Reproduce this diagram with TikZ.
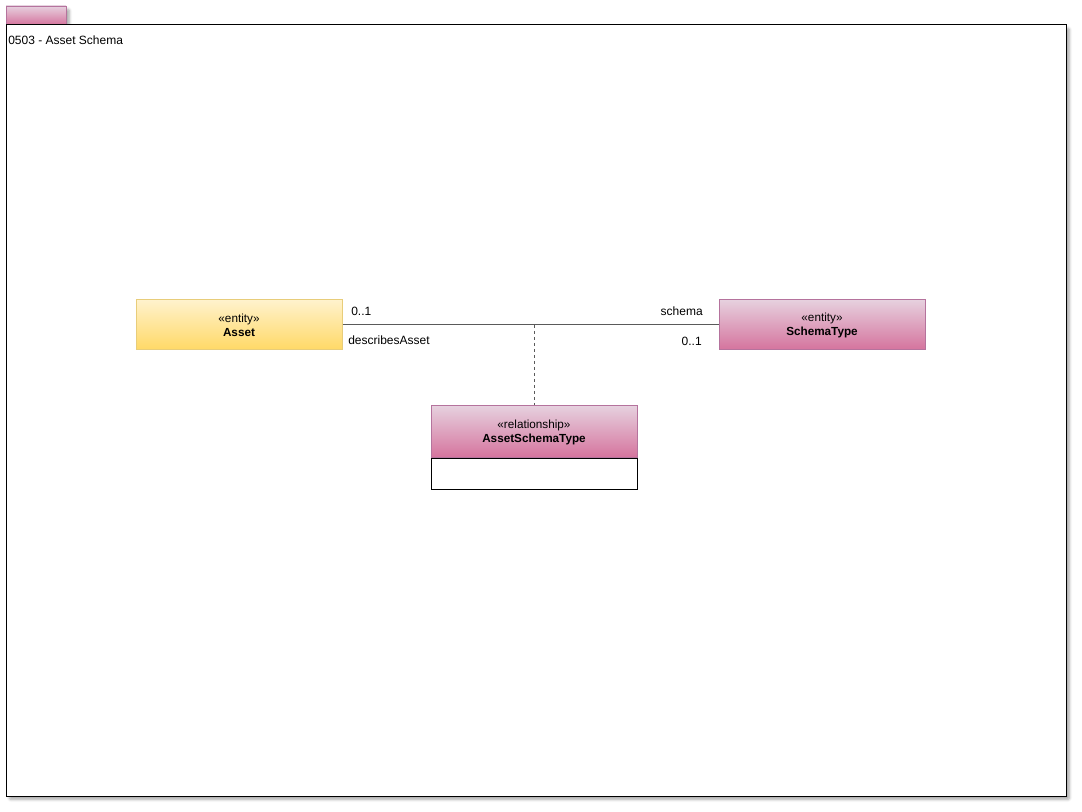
\documentclass[tikz,border=0pt]{standalone}
\usepackage{fontspec}
\setmainfont{Liberation Sans}
\usetikzlibrary{shadows.blur}
\definecolor{ylwtop}{HTML}{FFF2CC}
\definecolor{ylwbot}{HTML}{FFD966}
\definecolor{ylwline}{HTML}{E8CD7A}
\definecolor{pnktop}{HTML}{E6D0DE}
\definecolor{pnkbot}{HTML}{D5739D}
\definecolor{pnkline}{HTML}{B5739D}
\definecolor{conn}{HTML}{5A5A5A}
\tikzset{
  x=0.75pt, y=-0.75pt,
  shadowed/.style={blur shadow={shadow xshift=2.5pt, shadow yshift=-2.5pt, shadow blur steps=6, shadow opacity=35, shadow blur extra rounding=1pt}},
  framebox/.style={draw=black, line width=0.75pt, fill=white, shadowed},
  tabbox/.style={draw=pnkline, line width=0.6pt, top color=pnktop, bottom color=pnkbot, shadowed},
  entity/.style={draw=#1line, line width=0.75pt, top color=#1top, bottom color=#1bot,
    minimum width=154.5pt, minimum height=37.5pt, inner sep=0pt, align=center,
    font=\fontsize{8.8}{10.5}\selectfont},
  compart/.style={draw=black, line width=0.6pt, fill=white, minimum width=154.5pt,
    minimum height=23.25pt, inner sep=0pt},
  assoc/.style={draw=conn, line width=0.75pt},
  dashlink/.style={draw=conn, line width=0.75pt, dash pattern=on 2.25pt off 2.25pt},
  role/.style={font=\fontsize{9}{11}\selectfont, inner sep=0pt},
}
\begin{document}
\begin{tikzpicture}
\useasboundingbox (0,0) rectangle (1082,812);
% diagram frame and its tab
\node[tabbox, minimum width=45pt, minimum height=14.25pt, inner sep=0pt] (tab) at (36,15.5) {};
\node[framebox, minimum width=795pt, minimum height=578.25pt, inner sep=0pt] (frame) at (536,410.5) {};
\node[anchor=west, role] (title) at (8,40) {0503 - Asset Schema};
% classes
\node[entity=ylw] (asset) at (239,325) {«entity»\\\textbf{Asset}};
\node[entity=pnk] (schematype) at (822,325) {«entity»\\\textbf{SchemaType}};
\node[entity=pnk, minimum height=39pt] (rel) at (534,432) {«relationship»\\\textbf{AssetSchemaType}};
\node[compart, anchor=north] (relattr) at (rel.south) {};
% association and its class link
\draw[assoc] (asset.east) -- (schematype.west);
\coordinate (mid) at (rel.north |- asset.east);
\draw[dashlink] (mid) -- (rel.north);
% association end labels
\node[role, anchor=west] (m1) at (351,311) {0..1};
\node[role, anchor=west] (r1) at (348,340) {describesAsset};
\node[role, anchor=east] (r2) at (703,311) {schema};
\node[role, anchor=east] (m2) at (702,341) {0..1};
\end{tikzpicture}
\end{document}
